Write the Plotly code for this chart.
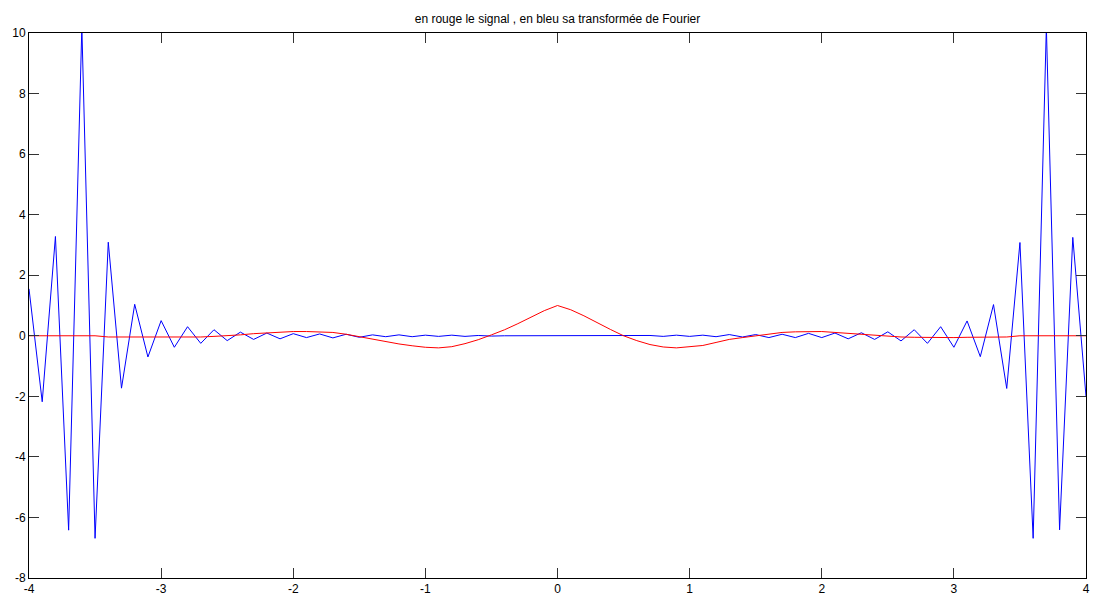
import numpy as np
import plotly.graph_objects as go

# Sample abscissae shared by both curves (step 0.1 from -4 to 4)
x = np.round(np.linspace(-4.0, 4.0, 81), 2)

# Signal (red)
signal = [
    0.00, 0.00, 0.00, 0.00, 0.00, 0.00, -0.04, -0.04, -0.05, -0.05,   # -4.0 .. -3.1
    -0.05, -0.05, -0.05, -0.04, -0.02, 0.00, 0.03, 0.07, 0.10, 0.12,  # -3.0 .. -2.1
    0.14, 0.14, 0.13, 0.11, 0.05, -0.03, -0.12, -0.20, -0.27, -0.33,  # -2.0 .. -1.1
    -0.38, -0.40, -0.36, -0.26, -0.13, 0.03, 0.20, 0.40, 0.62, 0.83,  # -1.0 .. -0.1
    1.00,                                                             #  0.0
    0.86, 0.66, 0.43, 0.21, 0.00, -0.16, -0.29, -0.37, -0.40, -0.37,  #  0.1 .. 1.0
    -0.32, -0.22, -0.12, -0.06, 0.00, 0.07, 0.11, 0.13, 0.14, 0.14,   #  1.1 .. 2.0
    0.11, 0.08, 0.06, 0.02, -0.02, -0.04, -0.05, -0.06, -0.06, -0.06, #  2.1 .. 3.0
    -0.05, -0.05, -0.05, -0.04, 0.00, 0.00, 0.00, 0.00, 0.00, 0.00,   #  3.1 .. 4.0
]

# Its Fourier transform (blue)
transform = [
    1.55, -2.18, 3.28, -6.42, 10.2, -6.69, 3.09, -1.73, 1.04, -0.70,  # -4.0 .. -3.1
    0.50, -0.38, 0.30, -0.25, 0.20, -0.16, 0.12, -0.12, 0.09, -0.10,  # -3.0 .. -2.1
    0.07, -0.06, 0.06, -0.07, 0.05, -0.05, 0.03, -0.03, 0.03, -0.03,  # -2.0 .. -1.1
    0.02, -0.02, 0.02, -0.02, 0.01, -0.01, 0.00, 0.00, 0.00, 0.00,    # -1.0 .. -0.1
    0.00,                                                             #  0.0
    0.00, 0.00, 0.00, 0.00, 0.00, -0.01, 0.01, -0.02, 0.02, -0.02,    #  0.1 .. 1.0
    0.02, -0.03, 0.04, -0.04, 0.04, -0.06, 0.05, -0.06, 0.08, -0.06,  #  1.1 .. 2.0
    0.09, -0.10, 0.10, -0.12, 0.13, -0.17, 0.20, -0.25, 0.30, -0.38,  #  2.1 .. 3.0
    0.49, -0.69, 1.03, -1.74, 3.08, -6.69, 10.2, -6.41, 3.25, -2.00,  #  3.1 .. 4.0
]

x_ticks = [-4, -3, -2, -1, 0, 1, 2, 3, 4]
y_ticks = [-8, -6, -4, -2, 0, 2, 4, 6, 8, 10]

title_text = "en rouge le signal , en bleu sa transformée de Fourier"

fig = go.Figure()
fig.add_trace(go.Scatter(x=x, y=transform, mode="lines",
                         line=dict(color="#0000ff", width=1), showlegend=False))
fig.add_trace(go.Scatter(x=x, y=signal, mode="lines",
                         line=dict(color="#ff0000", width=1), showlegend=False))

axis_common = dict(
    showline=True, linecolor="#000000", linewidth=1, mirror="allticks",
    ticks="inside", ticklen=10, tickcolor="#333333", tickwidth=1,
    showgrid=False, zeroline=False, automargin=False,
    tickfont=dict(family="Liberation Sans, Arial, sans-serif", size=12, color="#000000"),
)

fig.update_xaxes(range=[-4, 4], tickvals=x_ticks, ticktext=[str(v) for v in x_ticks],
                 ticklabelstandoff=0, **axis_common)
fig.update_yaxes(range=[-8, 10], tickvals=y_ticks, ticktext=[str(v) for v in y_ticks],
                 **axis_common)

fig.update_layout(
    width=1093, height=599,
    margin=dict(l=29, r=7, t=33, b=21),
    paper_bgcolor="#ffffff", plot_bgcolor="#ffffff",
    title=dict(text=title_text, x=0.5, xref="paper", y=1 - 19 / 599, yref="container",
               yanchor="middle",
               font=dict(family="Liberation Sans, Arial, sans-serif", size=12, color="#000000")),
)

fig.write_html("out.html")
